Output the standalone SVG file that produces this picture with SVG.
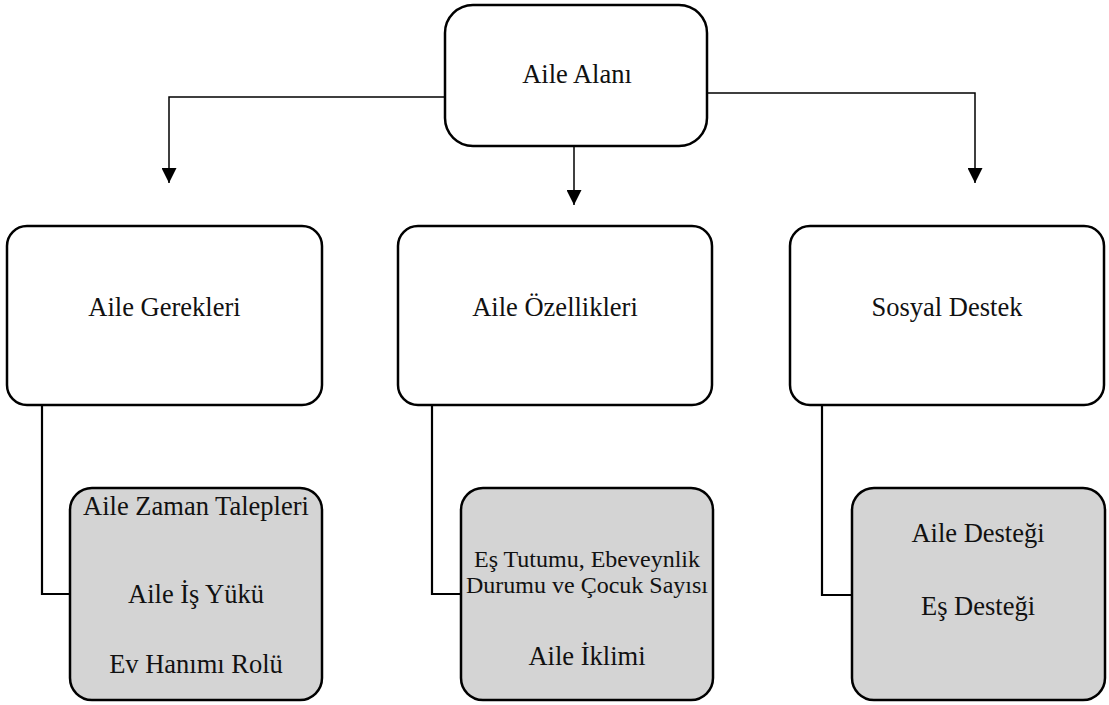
<svg xmlns="http://www.w3.org/2000/svg" width="1109" height="705" viewBox="0 0 1109 705">
  <defs>
    <marker id="arrow" viewBox="0 0 10 10" refX="10" refY="5" markerWidth="15" markerHeight="15" markerUnits="userSpaceOnUse" orient="auto">
      <path d="M0,0 L10,5 L0,10 Z" fill="#000"/>
    </marker>
  </defs>
  <style>
    .box { fill: #fff; stroke: #000; stroke-width: 2.5; }
    .sub { fill: #d4d4d4; stroke: #000; stroke-width: 2.5; }
    .link { fill: none; stroke: #000; stroke-width: 1.5; }
    .link2 { fill: none; stroke: #000; stroke-width: 2.2; }
    text { font-size: 26.5px; fill: #111; text-anchor: middle; }
    .sm { font-size: 24px; }
  </style>
  <rect width="1109" height="705" fill="#fff"/>

  <!-- connectors -->
  <g id="connectors">
    <path class="link" d="M445,97 H169 V183" marker-end="url(#arrow)"/>
    <path class="link" d="M574,146 V205" marker-end="url(#arrow)"/>
    <path class="link" d="M707,93 H975 V183" marker-end="url(#arrow)"/>
    <path class="link2" d="M42,405 V594 H70"/>
    <path class="link2" d="M432,405 V594 H461"/>
    <path class="link2" d="M822,405 V595 H852"/>
  </g>

  <g font-family="Liberation Serif, DejaVu Serif, serif">
    <!-- top node -->
    <g id="aile-alani">
      <rect class="box" x="445" y="5" width="262" height="141" rx="28"/>
      <text x="577" y="83">Aile Alanı</text>
    </g>

    <!-- second tier -->
    <g id="aile-gerekleri">
      <rect class="box" x="7" y="226" width="315" height="179" rx="20"/>
      <text x="164.5" y="316">Aile Gerekleri</text>
    </g>
    <g id="aile-ozellikleri">
      <rect class="box" x="398" y="226" width="314" height="179" rx="20"/>
      <text x="555" y="316">Aile Özellikleri</text>
    </g>
    <g id="sosyal-destek">
      <rect class="box" x="790" y="226" width="314" height="179" rx="20"/>
      <text x="947" y="316">Sosyal Destek</text>
    </g>

    <!-- third tier -->
    <g id="gerekler-detay">
      <rect class="sub" x="70" y="488" width="252" height="212" rx="22"/>
      <text x="196" y="515">Aile Zaman Talepleri</text>
      <text x="196" y="603">Aile İş Yükü</text>
      <text x="196" y="673">Ev Hanımı Rolü</text>
    </g>
    <g id="ozellikler-detay">
      <rect class="sub" x="461" y="488" width="252" height="212" rx="22"/>
      <text class="sm" x="587" y="567">Eş Tutumu, Ebeveynlik</text>
      <text class="sm" x="587" y="593">Durumu ve Çocuk Sayısı</text>
      <text x="587" y="665">Aile İklimi</text>
    </g>
    <g id="destek-detay">
      <rect class="sub" x="852" y="488" width="253" height="212" rx="22"/>
      <text x="978" y="542">Aile Desteği</text>
      <text x="978" y="615">Eş Desteği</text>
    </g>
  </g>
</svg>
